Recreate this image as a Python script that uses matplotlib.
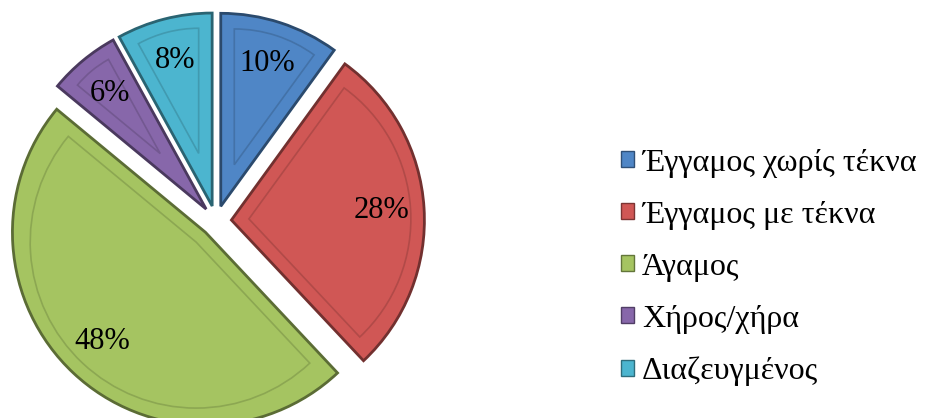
import numpy as np
import matplotlib
matplotlib.use("Agg")
import matplotlib.pyplot as plt
from matplotlib.patches import Wedge, Patch
import matplotlib.colors as mcolors

categories = ["Έγγαμος χωρίς τέκνα", "Έγγαμος με τέκνα", "Άγαμος", "Χήρος/χήρα", "Διαζευγμένος"]
values = [10, 28, 48, 6, 8]
colors = ["#4F86C6", "#D05755", "#A5C461", "#8767AA", "#4CB5CF"]

plt.rcParams['font.family'] = ['Liberation Serif', 'DejaVu Serif']

fig = plt.figure(figsize=(9.27, 4.18), dpi=100)
R = 193
cx, cy = 216, 418 - 221
lim = 1.1
size = 2 * lim * R
ax = fig.add_axes([(cx - size / 2) / 927, (cy - size / 2) / 418, size / 927, size / 418])

def darker(c, f=0.6):
    r, g, b = mcolors.to_rgb(c)
    return (r * f, g * f, b * f)

wedges, texts, autotexts = ax.pie(
    values, colors=colors, startangle=90, counterclock=False,
    explode=[0.08] * len(values), autopct='%d%%', pctdistance=0.78,
    wedgeprops=dict(linewidth=0),
    textprops=dict(fontsize=22, color='black'))

for w, c in zip(wedges, colors):
    w.set_edgecolor(darker(c, 0.55))
    w.set_linewidth(2.0)
    t1, t2 = w.theta1, w.theta2
    half = np.radians((t2 - t1) / 2)
    mid = np.radians((t1 + t2) / 2)
    d = 0.07
    shift = d / np.sin(half)
    cxw, cyw = w.center
    ncx = cxw + shift * np.cos(mid)
    ncy = cyw + shift * np.sin(mid)
    rin = w.r - d - shift
    inner = Wedge((ncx, ncy), rin, t1, t2, facecolor='none',
                  edgecolor=darker(c, 0.85), linewidth=1.2, zorder=w.get_zorder() + 0.5)
    ax.add_patch(inner)

ax.set_xlim(-lim, lim)
ax.set_ylim(-lim, lim)
ax.set_aspect('equal')
ax.axis('off')

handles = [Patch(facecolor=c, edgecolor=darker(c, 0.6), linewidth=1.0) for c in colors]
fig.legend(handles, categories, loc='center left', bbox_to_anchor=(621 / 927, 0.36),
           frameon=False, fontsize=23, handlelength=0.4, handleheight=0.4,
           handletextpad=0.25, labelspacing=0.72, borderpad=0, borderaxespad=0)

fig.savefig("out.png", dpi=100)
